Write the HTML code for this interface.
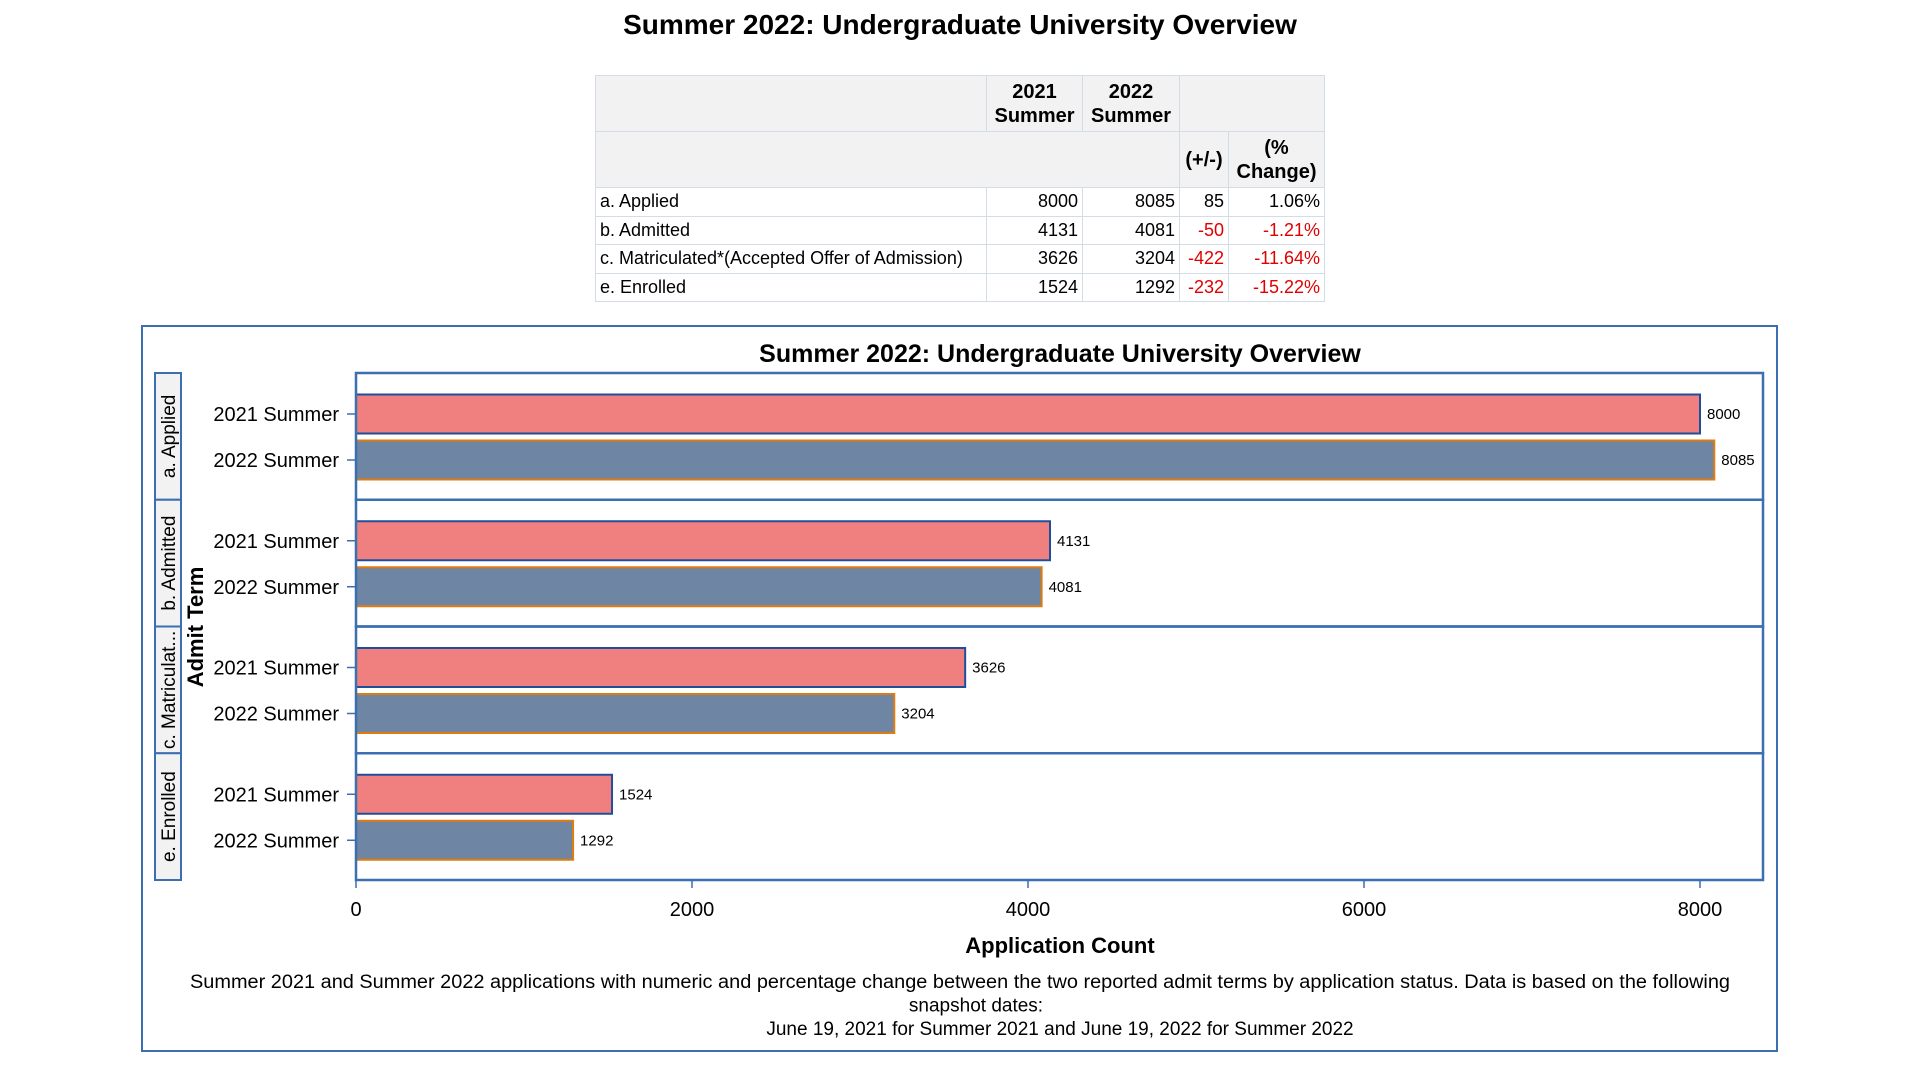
<!DOCTYPE html>
<html><head><meta charset="utf-8"><style>
body{margin:0;width:1920px;height:1080px;background:#fff;font-family:"Liberation Sans",sans-serif;position:relative;overflow:hidden}
#title{position:absolute;top:9px;left:0;width:1920px;text-align:center;font-weight:bold;font-size:28px;color:#000}
table{position:absolute;left:595px;top:75px;border-collapse:collapse;font-size:18px}
td{border:1.5px solid #d4dce6;padding:0 4px;height:27.5px;text-align:right;white-space:nowrap}
td.l{text-align:left}
.h td{background:#f2f2f2;font-weight:bold;text-align:center;font-size:20px;line-height:24px;height:55px}
.r{color:#e00000}
</style></head><body>
<div id="title">Summer 2022: Undergraduate University Overview</div>
<table>
<colgroup><col style="width:391px"><col style="width:96px"><col style="width:97px"><col style="width:49px"><col style="width:96px"></colgroup>
<tr class="h"><td></td><td>2021<br>Summer</td><td>2022<br>Summer</td><td colspan="2" style="border-bottom:1.5px solid #d4dce6"></td></tr>
<tr class="h"><td colspan="3"></td><td>(+/-)</td><td>(%<br>Change)</td></tr>
<tr><td class="l">a. Applied</td><td>8000</td><td>8085</td><td>85</td><td>1.06%</td></tr>
<tr><td class="l">b. Admitted</td><td>4131</td><td>4081</td><td class="r">-50</td><td class="r">-1.21%</td></tr>
<tr><td class="l">c. Matriculated*(Accepted Offer of Admission)</td><td>3626</td><td>3204</td><td class="r">-422</td><td class="r">-11.64%</td></tr>
<tr><td class="l">e. Enrolled</td><td>1524</td><td>1292</td><td class="r">-232</td><td class="r">-15.22%</td></tr>
</table>
<svg id="chart" width="1920" height="1080" style="position:absolute;left:0;top:0" font-family="Liberation Sans, sans-serif"></svg>
<script>
const categories=["a. Applied","b. Admitted","c. Matriculat...","e. Enrolled"];
const terms=["2021 Summer","2022 Summer"];
const values2021=[8000,4131,3626,1524];
const values2022=[8085,4081,3204,1292];
const xTicks=[0,2000,4000,6000,8000];
const svg=document.getElementById('chart');
const NS='http://www.w3.org/2000/svg';
function mk(t,a,txt){const e=document.createElementNS(NS,t);for(const k in a)e.setAttribute(k,a[k]);if(txt!==undefined)e.textContent=txt;svg.appendChild(e);return e;}
const L=356,R=1763,T=373,B=880;
const x=v=>L+v*(1700-356)/8000;
const panelH=(B-T)/categories.length;
let e=mk('rect',{x:142,y:326,width:1635,height:725,fill:'none',stroke:'#3b6fb0','stroke-width':2});


e=mk('text',{x:1060,y:362,'text-anchor':'middle','font-size':25,'font-weight':'bold'},'Summer 2022: Undergraduate University Overview');


categories.forEach((c,i)=>{
  const py=T+i*panelH;
  let s=mk('rect',{x:155,y:py,width:26,height:panelH,fill:'#f2f2f2',stroke:'#3b6fb0','stroke-width':2});
  
  
  s=mk('text',{x:0,y:0,'font-size':19,'text-anchor':'middle',transform:`translate(175,${py+panelH/2}) rotate(-90)`},c);
  
  
  const vals=[values2021[i],values2022[i]];
  vals.forEach((v,j)=>{
    const cy=py+41+j*46;
    let b=mk('rect',{x:L,y:cy-19.5,width:x(v)-L,height:39,fill:j?'#6e85a3':'#f08080',stroke:j?'#e07b10':'#1f4e9a','stroke-width':2});
    
    
    let t=mk('text',{x:x(v)+7,y:cy+5,'font-size':15},String(v));
    
    
    t=mk('text',{x:339,y:cy+7,'font-size':20,'text-anchor':'end'},terms[j]);
    
    
    mk('line',{x1:347,x2:L,y1:cy,y2:cy,stroke:'#3b6fb0','stroke-width':1.5});
  });
  let p=mk('rect',{x:L,y:py,width:R-L,height:panelH,fill:'none',stroke:'#3b6fb0','stroke-width':2.5});
  
  
});
xTicks.forEach(v=>{
  mk('line',{x1:x(v),x2:x(v),y1:B,y2:B+8,stroke:'#3b6fb0','stroke-width':1.5});
  let t=mk('text',{x:x(v),y:916,'font-size':20,'text-anchor':'middle'},String(v));
  
  
});
e=mk('text',{x:1060,y:953,'text-anchor':'middle','font-size':22,'font-weight':'bold'},'Application Count');


e=mk('text',{x:0,y:0,'font-size':22,'font-weight':'bold','text-anchor':'middle',transform:'translate(203,627) rotate(-90)'},'Admit Term');


let f1=mk('text',{x:190,y:988,'font-size':19,textLength:1540,lengthAdjust:'spacingAndGlyphs'},"Summer 2021 and Summer 2022 applications with numeric and percentage change between the two reported admit terms by application status.  Data is based on the following");


let f2=mk('text',{x:976,y:1011.5,'font-size':19,'text-anchor':'middle'},"snapshot dates:");


let f3=mk('text',{x:1060,y:1035,'font-size':19,'text-anchor':'middle'},"June 19, 2021 for Summer 2021 and June 19, 2022 for Summer 2022");


</script>
</body></html>
